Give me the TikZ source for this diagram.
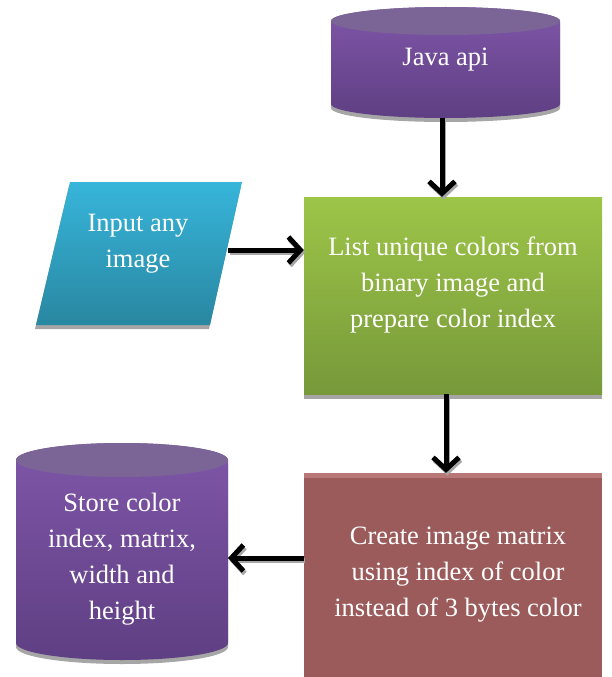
\documentclass[tikz,border=0pt]{standalone}
\usepackage{fontspec}
\setmainfont{Liberation Serif}
\usetikzlibrary{arrows.meta}
\definecolor{shadowgray}{HTML}{A6A6A6}
\definecolor{purpTop}{HTML}{7B6597}
\definecolor{purpA}{HTML}{7F56A8}
\definecolor{purpB}{HTML}{5F3F83}
\definecolor{cyanA}{HTML}{37B5DA}
\definecolor{cyanB}{HTML}{2987A1}
\definecolor{greenA}{HTML}{9DC548}
\definecolor{greenB}{HTML}{77993A}
\definecolor{redBody}{HTML}{9B5B5B}
\definecolor{redBand}{HTML}{B97878}
\begin{document}
\begin{tikzpicture}[x=1pt,y=1pt,
  lbl/.style={text=white, align=center, font=\fontsize{26.5}{36}\selectfont, inner sep=0pt},
  arr/.style={line width=5pt, -{Straight Barb[length=12pt,width=26pt]}},
  arrsh/.style={arr, draw=shadowgray, transform canvas={shift={(1.5pt,-2.5pt)}}},
  boxnode/.style={rectangle, inner sep=0pt, draw=none}]
\useasboundingbox (0,0) rectangle (611,-677);

% ---- Java api cylinder ----
\fill[shadowgray] (331,-25) -- (331,-108) arc[start angle=180,end angle=360,x radius=114.5,y radius=14] -- (560,-25) -- cycle;
\shade[top color=purpA, bottom color=purpB] (331,-21) -- (331,-104) arc[start angle=180,end angle=360,x radius=114.5,y radius=14] -- (560,-21) arc[start angle=0,end angle=180,x radius=114.5,y radius=14] -- cycle;
\fill[purpTop] (445.5,-21) ellipse[x radius=114.5,y radius=14];
\node[lbl] (java) at (445.5,-60) {Java api};
\coordinate (javabot) at (442,-118);

% ---- Store cylinder ----
\fill[shadowgray] (16,-464) -- (16,-647) arc[start angle=180,end angle=360,x radius=106,y radius=17] -- (228,-464) -- cycle;
\shade[top color=purpA, bottom color=purpB] (16,-460) -- (16,-643) arc[start angle=180,end angle=360,x radius=106,y radius=17] -- (228,-460) arc[start angle=0,end angle=180,x radius=106,y radius=17] -- cycle;
\fill[purpTop] (122,-460) ellipse[x radius=106,y radius=17];
\node[lbl] (store) at (122,-559) {Store color\\index, matrix,\\width and\\height};
\coordinate (storeright) at (228,-558);

% ---- Input parallelogram ----
\fill[shadowgray] (69,-186) -- (241,-186) -- (209,-329) -- (35,-329) -- cycle;
\shade[top color=cyanA, bottom color=cyanB] (70,-182) -- (242,-182) -- (210,-325) -- (36,-325) -- cycle;
\node[lbl] (input) at (138,-243.5) {Input any\\image};
\coordinate (inputright) at (228,-250);

% ---- Green box ----
\fill[shadowgray] (304,-200) rectangle (602,-399);
\node[boxnode, top color=greenA, bottom color=greenB, minimum width=298, minimum height=197] (listbox) at (453,-295.5) {};
\node[lbl] (list) at (453,-284.5) {List unique colors from\\binary image and\\prepare color index};

% ---- Red box ----
\node[boxnode, fill=redBody, minimum width=298, minimum height=204] (createbox) at (453,-575) {};
\fill[redBand] (createbox.north west) rectangle ([yshift=-5]createbox.north east);
\node[lbl] (create) at (458,-574.5) {Create image matrix\\using index of color\\instead of 3 bytes color};

% ---- Arrows (shadows first) ----
\draw[arrsh] (javabot) -- (javabot |- listbox.north);
\draw[arrsh] (inputright) -- (inputright -| listbox.west);
\draw[arrsh] ([xshift=-7]listbox.south) -- ([xshift=-7]createbox.north);
\draw[arrsh] (storeright -| createbox.west) -- (storeright);
\draw[arr] (javabot) -- (javabot |- listbox.north);
\draw[arr] (inputright) -- (inputright -| listbox.west);
\draw[arr] ([xshift=-7]listbox.south) -- ([xshift=-7]createbox.north);
\draw[arr] (storeright -| createbox.west) -- (storeright);
\end{tikzpicture}
\end{document}
